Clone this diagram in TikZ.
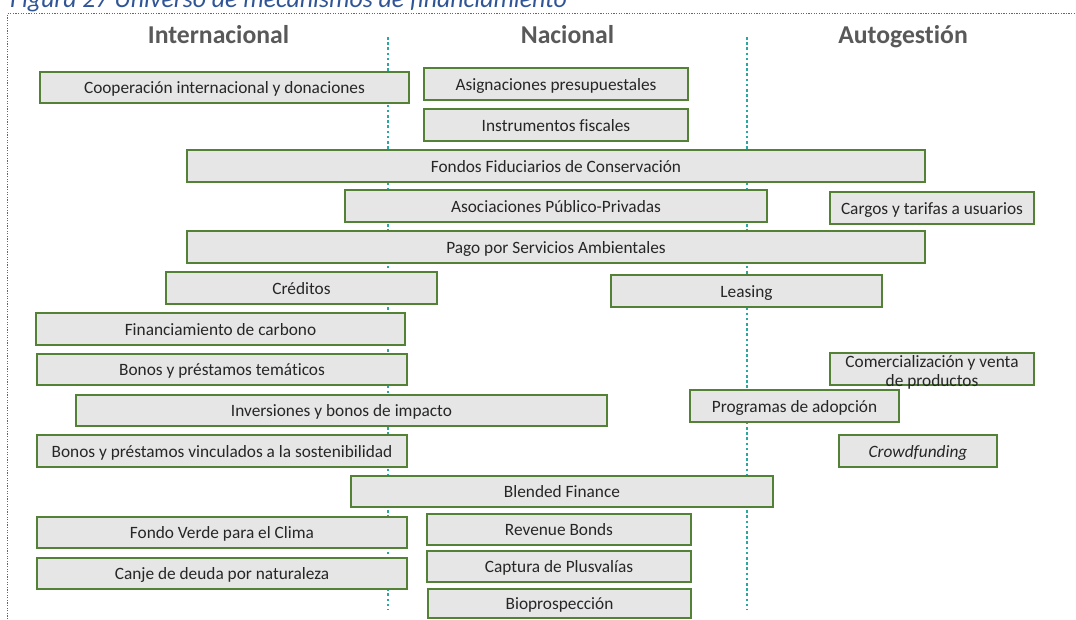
\documentclass[tikz,border=0pt]{standalone}
\usepackage{fontspec}
\setmainfont{Carlito}[Ligatures=NoCommon]

\definecolor{boxfill}{HTML}{E7E6E6}
\definecolor{boxline}{HTML}{538135}
\definecolor{guide}{HTML}{2BA7A2}
\definecolor{frameblue}{HTML}{2E75B6}
\definecolor{captionblue}{HTML}{2F5597}
\definecolor{headgray}{HTML}{595959}
\definecolor{boxtext}{HTML}{262626}

% \mechbox[options]{name}{left}{top}{right}{bottom}{text}
\newcommand\mechbox[7][]{%
  \node[mech, minimum width={#5-#3}, minimum height={#6-#4}, #1] (#2)
    at ({(#3+#5)/2},{(#4+#6)/2}) {#7};}

\begin{document}
\begin{tikzpicture}[x=1pt, y=-1pt,
  mech/.style={draw=boxline, fill=boxfill, line width=2pt, inner sep=0pt,
    text height=14.6pt, text depth=2pt,
    text=boxtext, font=\fontsize{17.3}{19}\selectfont},
  head/.style={font=\fontsize{25.7}{30}\selectfont\bfseries, text=headgray, anchor=base},
  guideline/.style={draw=guide, line width=2.6pt, dash pattern=on 2.6pt off 2.6pt},
  framedots/.style={draw=frameblue, line width=1.3pt, dash pattern=on 1.3pt off 1.3pt},
]
\useasboundingbox (0,0) rectangle (1076,620);
\clip (0,0) rectangle (1076,620);

% caption
\node[anchor=base west, inner sep=0pt, text=captionblue,
      font=\fontsize{25.8}{30}\selectfont\itshape] (caption) at (10,8)
      {Figura 27 Universo de mecanismos de financiamiento};

% dotted frame
\draw[framedots] (7.5,640) -- (7.5,13.5) -- (1090,13.5);

% column separators
\coordinate (g1top) at (388,37);  \coordinate (g1bot) at (388,610);
\coordinate (g2top) at (747,37);  \coordinate (g2bot) at (747,610);
\draw[guideline] (g1top) -- (g1bot);
\draw[guideline] (g2top) -- (g2bot);

% column headings
\node[head] (hint) at (218.5,44) {Internacional};
\node[head] (hnac) at (567.5,44) {Nacional};
\node[head] (haut) at (903,44) {Autogestión};

% mechanisms
\mechbox{coop}{40}{72}{409}{103}{Cooperación internacional y donaciones}
\mechbox{asig}{424}{68}{688}{100}{Asignaciones presupuestales}
\mechbox{fisc}{424}{109}{688}{141}{Instrumentos fiscales}
\mechbox{ffc}{187}{150}{925}{182}{Fondos Fiduciarios de Conservación}
\mechbox{app}{345}{190}{767}{222}{Asociaciones Público-Privadas}
\mechbox{cargos}{830}{192}{1034}{224}{Cargos y tarifas a usuarios}
\mechbox{psa}{187}{231}{925}{263}{Pago por Servicios Ambientales}
\mechbox{cred}{166}{272}{437}{304}{Créditos}
\mechbox{leas}{611}{275}{882}{307}{Leasing}
\mechbox{carb}{36}{313}{405}{345}{Financiamiento de carbono}
\mechbox{tema}{37}{354}{407}{385}{Bonos y préstamos temáticos}
\mechbox{comerc}{830}{353}{1034}{385}{}
\node[text=boxtext, font=\fontsize{17.3}{19}\selectfont, align=center, inner sep=0pt]
  (comerctxt) at ([yshift=-3.5pt]comerc.center) {Comercialización y venta\\de productos};
\mechbox{impac}{76}{395}{607}{426}{Inversiones y bonos de impacto}
\mechbox{adop}{690}{390}{899}{422}{Programas de adopción}
\mechbox{sost}{37}{435}{407}{467}{Bonos y préstamos vinculados a la sostenibilidad}
\mechbox[font=\fontsize{17.3}{19}\selectfont\itshape]{crowd}{839}{435}{997}{467}{Crowdfunding}
\mechbox{blend}{351}{476}{773}{507}{Blended Finance}
\mechbox{fvc}{37}{517}{407}{548}{Fondo Verde para el Clima}
\mechbox{rev}{427}{514}{691}{545}{Revenue Bonds}
\mechbox{plus}{427}{551}{691}{582}{Captura de Plusvalías}
\mechbox{canje}{37}{558}{407}{589}{Canje de deuda por naturaleza}
\mechbox{bio}{428}{589}{691}{618}{Bioprospección}
\end{tikzpicture}
\end{document}
